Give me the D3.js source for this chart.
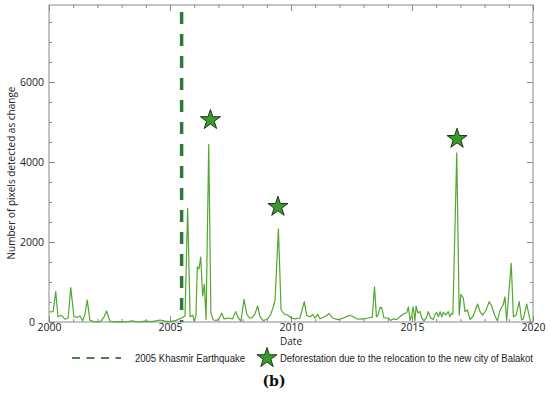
<!DOCTYPE html>
<html>
<head>
<meta charset="utf-8">
<script src="https://cdn.jsdelivr.net/npm/d3@7"></script>
<style>
  body { margin: 0; background: #fff; }
  svg { display: block; }
</style>
</head>
<body>
<div id="plot"></div>
<script>
// time of each sample (decimal year) and pixels detected as change
var dates = [
  2000.00, 2000.17, 2000.28, 2000.37, 2000.50, 2000.66, 2000.79, 2000.90, 2001.03, 2001.16,
  2001.28, 2001.39, 2001.49, 2001.58, 2001.69, 2001.86, 2001.98, 2002.15, 2002.27, 2002.38,
  2002.52, 2002.69, 2002.93, 2003.14, 2003.43, 2003.68, 2003.97, 2004.26, 2004.59, 2004.79,
  2005.00, 2005.25, 2005.48, 2005.62, 2005.73, 2005.83, 2005.94, 2006.00, 2006.07, 2006.13,
  2006.20, 2006.27, 2006.35, 2006.42, 2006.49, 2006.60, 2006.69, 2006.79, 2006.93, 2007.02,
  2007.14, 2007.23, 2007.41, 2007.59, 2007.71, 2007.82, 2007.93, 2008.06, 2008.17, 2008.28,
  2008.40, 2008.51, 2008.62, 2008.72, 2008.86, 2009.04, 2009.17, 2009.27, 2009.34, 2009.48,
  2009.59, 2009.72, 2009.86, 2010.00, 2010.17, 2010.37, 2010.55, 2010.65, 2010.79, 2010.90,
  2010.99, 2011.10, 2011.20, 2011.33, 2011.45, 2011.57, 2011.71, 2011.82, 2011.95, 2012.16,
  2012.31, 2012.44, 2012.57, 2012.71, 2012.92, 2013.19, 2013.36, 2013.45, 2013.53, 2013.60,
  2013.68, 2013.75, 2013.84, 2014.02, 2014.12, 2014.23, 2014.37, 2014.50, 2014.64, 2014.78,
  2014.85, 2014.92, 2014.99, 2015.05, 2015.12, 2015.17, 2015.24, 2015.33, 2015.40, 2015.50,
  2015.61, 2015.67, 2015.77, 2015.88, 2015.95, 2016.02, 2016.09, 2016.16, 2016.23, 2016.29,
  2016.40, 2016.50, 2016.57, 2016.64, 2016.69, 2016.85, 2016.95, 2017.02, 2017.12, 2017.19,
  2017.29, 2017.40, 2017.53, 2017.71, 2017.81, 2017.92, 2018.06, 2018.19, 2018.29, 2018.43,
  2018.53, 2018.64, 2018.77, 2018.84, 2018.91, 2019.10, 2019.19, 2019.30, 2019.43, 2019.53,
  2019.60, 2019.74, 2019.85, 2019.90
];
var changes = [
  250, 260, 760, 130, 170, 70, 100, 860, 130, 120,
  150, 30, 200, 550, 40, 10, 0, 20, 120, 275,
  20, 0, 10, 0, 30, 0, 20, 10, 50, 20,
  10, 40, 100, 150, 2840, 130, 170, 20, 150, 1380,
  1330, 1620, 650, 940, 60, 4440, 220, 50, 40, 80,
  220, 80, 100, 80, 260, 100, 20, 565, 200, 100,
  110, 200, 400, 130, 30, 80, 200, 380, 550, 2320,
  300, 200, 175, 100, 80, 100, 510, 160, 130, 190,
  100, 190, 80, 120, 150, 215, 100, 80, 60, 100,
  140, 170, 130, 80, 70, 100, 120, 880, 130, 180,
  365, 360, 100, 100, 40, 80, 60, 130, 200, 230,
  380, 40, 170, 380, 30, 400, 230, 260, 100, 30,
  130, 260, 100, 60, 190, 240, 130, 260, 130, 240,
  180, 260, 130, 220, 200, 4230, 170, 690, 600, 260,
  300, 60, 150, 450, 260, 170, 300, 510, 400, 150,
  30, 300, 430, 630, 30, 1465, 130, 170, 510, 50,
  80, 450, 130, 0
];

// deforestation events (stars)
var starDates = [2006.67, 2009.46, 2016.86];
var starValues = [5050, 2880, 4580];

var quakeDate = 2005.48;

var xMajor = [2000, 2005, 2010, 2015, 2020];
var yMajor = [0, 2000, 4000, 6000];

var margin = {top: 5, left: 49};
var width = 484, height = 317;

var svg = d3.select("#plot").append("svg")
  .attr("width", 550)
  .attr("height", 395);

var g = svg.append("g").attr("transform", "translate(" + margin.left + "," + margin.top + ")");

var x = d3.scaleLinear().domain([2000, 2020]).range([0, width]);
var y = d3.scaleLinear().domain([0, 7925]).range([height, 0]);

var tickFont = "'Open Sans', sans-serif";

// minor ticks
var xMinor = d3.range(2000, 2021, 1);
var yMinor = d3.range(0, 7925, 500);

function styleAxis(sel) {
  sel.select(".domain").remove();
  sel.selectAll("line").attr("stroke", "#8a8a8a");
  sel.selectAll("text").attr("font-family", tickFont).attr("font-size", "10.5px").attr("fill", "#222");
}

g.append("g").attr("transform", "translate(0," + height + ")")
  .call(d3.axisBottom(x).tickValues(xMinor).tickSize(-3).tickFormat(""))
  .call(styleAxis);
g.append("g").attr("transform", "translate(0," + height + ")")
  .call(d3.axisBottom(x).tickValues(xMajor).tickSize(-6).tickPadding(2).tickFormat(d3.format("d")))
  .call(styleAxis);
g.append("g")
  .call(d3.axisTop(x).tickValues(xMinor).tickSize(-3).tickFormat(""))
  .call(styleAxis);
g.append("g")
  .call(d3.axisTop(x).tickValues(xMajor).tickSize(-6).tickFormat(""))
  .call(styleAxis);

g.append("g")
  .call(d3.axisLeft(y).tickValues(yMinor).tickSize(-3).tickFormat(""))
  .call(styleAxis);
var yLabels = g.append("g")
  .call(d3.axisLeft(y).tickValues(yMajor).tickSize(-6).tickPadding(5).tickFormat(d3.format("d")))
  .call(styleAxis);
g.append("g").attr("transform", "translate(" + width + ",0)")
  .call(d3.axisRight(y).tickValues(yMinor).tickSize(-3).tickFormat(""))
  .call(styleAxis);
g.append("g").attr("transform", "translate(" + width + ",0)")
  .call(d3.axisRight(y).tickValues(yMajor).tickSize(-6).tickFormat(""))
  .call(styleAxis);

// "0" pushed left so it clears the 2000 label
yLabels.selectAll(".tick text").filter(function(d) { return d === 0; }).attr("x", -14);

// frame
g.append("rect")
  .attr("width", width).attr("height", height)
  .attr("fill", "none").attr("stroke", "#8a8a8a").attr("stroke-width", 1);

// earthquake line
g.append("line")
  .attr("x1", x(quakeDate)).attr("x2", x(quakeDate))
  .attr("y1", 7).attr("y2", height)
  .attr("stroke", "#2e7a3a").attr("stroke-width", 3.5)
  .attr("stroke-dasharray", "12,10");

// series
var series = dates.map(function(d, i) { return [d, changes[i]]; });
g.append("path")
  .datum(series)
  .attr("fill", "none")
  .attr("stroke", "#52a82e")
  .attr("stroke-width", 1.2)
  .attr("stroke-linejoin", "round")
  .attr("d", d3.line().x(function(d) { return x(d[0]); }).y(function(d) { return y(d[1]); }));

// stars
var star = d3.symbol().type(d3.symbolStar).size(125);
g.selectAll(".star")
  .data(starDates)
  .enter()
  .append("path")
  .attr("class", "star")
  .attr("d", star)
  .attr("transform", function(d, i) { return "translate(" + x(d) + "," + y(starValues[i]) + ")"; })
  .attr("fill", "#3a9a2e")
  .attr("stroke", "#1b3b12")
  .attr("stroke-width", 1);

// axis titles
svg.append("text")
  .attr("x", margin.left + x(2010)).attr("y", 345)
  .attr("text-anchor", "middle")
  .attr("font-family", tickFont).attr("font-size", "10px").attr("fill", "#222")
  .text("Date");

svg.append("text")
  .attr("transform", "translate(15," + 173 + ") rotate(-90)")
  .attr("text-anchor", "middle")
  .attr("font-family", tickFont).attr("font-size", "10px").attr("fill", "#222")
  .text("Number of pixels detected as change");

// legend
svg.append("line")
  .attr("x1", 72).attr("x2", 121).attr("y1", 358).attr("y2", 358)
  .attr("stroke", "#4f7f4a").attr("stroke-width", 2)
  .attr("stroke-dasharray", "8,6.5");
svg.append("text")
  .attr("x", 135).attr("y", 361.5)
  .attr("font-family", "'Liberation Sans', Arial, sans-serif").attr("font-size", "10px").attr("fill", "#222")
  .attr("textLength", 110).attr("lengthAdjust", "spacingAndGlyphs")
  .text("2005 Khasmir Earthquake");
svg.append("path")
  .attr("d", d3.symbol().type(d3.symbolStar).size(125))
  .attr("transform", "translate(267,358)")
  .attr("fill", "#3a9a2e")
  .attr("stroke", "#1b3b12")
  .attr("stroke-width", 1);
svg.append("text")
  .attr("x", 280).attr("y", 361.5)
  .attr("font-family", "'Liberation Sans', Arial, sans-serif").attr("font-size", "10px").attr("fill", "#222")
  .attr("textLength", 253).attr("lengthAdjust", "spacingAndGlyphs")
  .text("Deforestation due to the relocation to the new city of Balakot");

svg.append("text")
  .attr("x", 274).attr("y", 386)
  .attr("text-anchor", "middle")
  .attr("font-family", "'DejaVu Serif', serif").attr("font-size", "14px").attr("fill", "#111")
  .attr("font-weight", "bold")
  .text("(b)");
</script>
</body>
</html>
